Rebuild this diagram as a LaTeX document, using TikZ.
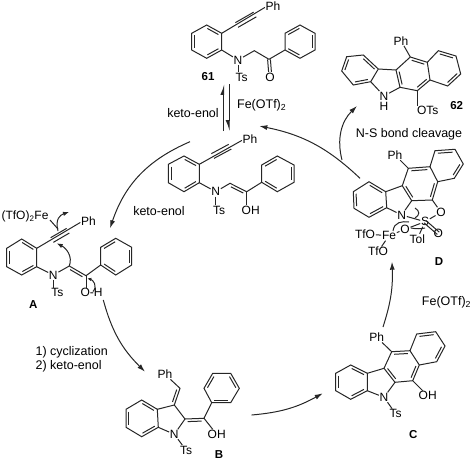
\documentclass[tikz,border=0pt]{standalone}
\usepackage{fontspec}
\setmainfont{Liberation Sans}
\usetikzlibrary{calc,arrows.meta}
% inner line of a double bond, lying left of the direction #1 to #2
\newcommand{\inbond}[2]{\draw[bond] ($(#1)!.13!(#2)!2.7pt!90:(#2)$) -- ($(#2)!.13!(#1)!2.7pt!-90:(#1)$);}
% outer lines of a triple bond
\newcommand{\outbond}[2]{\draw[bond] ($(#1)!2.7pt!90:(#2)$) -- ($(#2)!2.7pt!-90:(#1)$); \draw[bond] ($(#1)!2.7pt!-90:(#2)$) -- ($(#2)!2.7pt!90:(#1)$);}
\begin{document}
\begin{tikzpicture}[x=1pt, y=-1pt, >={Latex[length=8pt,width=5pt]},
		bond/.style={line width=1pt, black!85},
		curved/.style={->, line width=1pt, black!85},
		atom/.style={inner sep=0.6pt, font=\fontsize{12}{12}\selectfont},
		tag/.style={inner sep=0pt, font=\fontsize{11.5}{12}\selectfont\bfseries},
		note/.style={inner sep=0pt, font=\fontsize{12.5}{14}\selectfont}]
	\useasboundingbox (0,0) rectangle (474,461);
	% 61
	\foreach \n/\x/\y in {p1/206.7/25,p2/191.7/33.3,p3/191.7/50,p4/206.7/58.3,p5/221.7/50,p6/221.7/33.3,
		s1/300/25,s2/285/33.3,s3/285/50,s4/300/58.3,s5/315/50,s6/315/33.3,pc/254.3/50.7,pk/269/59.3,pt1/236.7/25,pt2/255/14.5}
		\coordinate (\n) at (\x,\y);
	\node[atom] (pPh) at (273,6) {Ph};
	\node[atom] (pN) at (238,60) {N};
	\node[atom] (pTs) at (241.7,77.3) {Ts};
	\node[atom] (pO) at (270,77) {O};
	\draw[bond] (p1) -- (p2) -- (p3) -- (p4) -- (p5) -- (p6) -- cycle;
	\draw[bond] (s1) -- (s2) -- (s3) -- (s4) -- (s5) -- (s6) -- cycle;
	\draw[bond] (p6) -- (pPh.190);
	\draw[bond] (p5) -- (pN) -- (pc) -- (pk) -- (s3);
	\draw[bond] (pN) -- (pN|-pTs.north);
	\draw[bond] ($(pk)+(-1.4,0)$) -- ($(pO.north)+(-1.4,0)$);
	\draw[bond] ($(pk)+(1.4,0)$) -- ($(pO.north)+(1.4,0)$);
	\outbond{pt1}{pt2}
	\foreach \a/\b in {p2/p3,p4/p5,p6/p1,s1/s2,s3/s4,s5/s6} {\inbond{\a}{\b}}
	\node[tag] (pTag) at (208,77) {61};
	% equilibrium arrows
	\coordinate (upS) at (223.7,131);
	\coordinate (upE) at (223.7,84);
	\coordinate (dnS) at (229,84);
	\coordinate (dnE) at (229,131);
	\draw[bond, -{Latex[harpoon,length=9pt,width=7pt]}] (upS) -- (upE);
	\draw[bond, -{Latex[harpoon,swap,length=9pt,width=7pt]}] (dnS) -- (dnE);
	\node[note] (fe1) at (261.7,105) {Fe(OTf)\textsubscript{2}};
	\node[note] (ke1) at (193,112.7) {keto-enol};
	% enol
	\foreach \n/\x/\y in {e1/184/156,e2/168.3/164.3,e3/168.3/182.7,e4/184/191.7,e5/199.3/182.7,e6/199.3/164.3,
		f1/277.3/156,f2/261.7/165,f3/261.7/182.3,f4/277.3/191.7,f5/294/182.3,f6/294/165,ec/230/183.3,ek/246.7/191.7,et1/212.7/156,et2/230/146.7}
		\coordinate (\n) at (\x,\y);
	\node[atom] (ePh) at (250,139) {Ph};
	\node[atom] (eN) at (215.7,191.7) {N};
	\node[atom] (eTs) at (219,210) {Ts};
	\node[atom] (eOH) at (250.7,210) {OH};
	\draw[bond] (e1) -- (e2) -- (e3) -- (e4) -- (e5) -- (e6) -- cycle;
	\draw[bond] (f1) -- (f2) -- (f3) -- (f4) -- (f5) -- (f6) -- cycle;
	\draw[bond] (e6) -- (ePh.190);
	\draw[bond] (e5) -- (eN) -- (ec) -- (ek) -- (f3);
	\draw[bond] (eN) -- (eN|-eTs.north);
	\draw[bond] (ek) -- (ek|-eOH.north);
	\outbond{et1}{et2}
	\foreach \a/\b in {e2/e3,e4/e5,e6/e1,f1/f2,f3/f4,f5/f6,ek/ec} {\inbond{\a}{\b}}
	\node[note] (ke2) at (159,211) {keto-enol};
	% A
	\foreach \n/\x/\y in {a1/21.7/239,a2/6.7/248.3,a3/6.7/266.7,a4/21.7/275,a5/36.7/266.7,a6/36.7/248.3,
		g1/115.7/238.3,g2/100.7/247.3,g3/100.7/265,g4/115.7/275,g5/131.7/265,g6/131.7/247.3,ac/69.3/266,ak/86/275.7,at1/52/240,at2/68/230.7,afe/50/220,afx/58/229}
		\coordinate (\n) at (\x,\y);
	\node[atom] (aFe) at (25,216.5) {(TfO)\textsubscript{2}Fe};
	\node[atom] (aPh) at (88.5,221) {Ph};
	\node[atom] (aN) at (53.3,275) {N};
	\node[atom] (aTs) at (57.3,292.7) {Ts};
	\node[atom] (aOH) at (91.5,292.7) {O-H};
	\draw[bond] (a1) -- (a2) -- (a3) -- (a4) -- (a5) -- (a6) -- cycle;
	\draw[bond] (g1) -- (g2) -- (g3) -- (g4) -- (g5) -- (g6) -- cycle;
	\draw[bond] (a6) -- (aPh.190);
	\draw[bond] (a5) -- (aN) -- (ac) -- (ak) -- (g3);
	\draw[bond] (aN) -- (aN|-aTs.north);
	\draw[bond] (ak) -- (ak|-aOH.north);
	\draw[bond] (afe) -- (afx);
	\outbond{at1}{at2}
	\foreach \a/\b in {a2/a3,a4/a5,a6/a1,g1/g2,g3/g4,g5/g6,ak/ac} {\inbond{\a}{\b}}
	\node[tag] (aTag) at (33.3,304.3) {A};
	\draw[curved, >={Latex[length=6pt,width=4.5pt]}] (58,231) .. controls (55,219) and (60,215) .. (69,212);
	\draw[curved, >={Latex[length=6pt,width=4.5pt]}] (ac) .. controls (73,256) and (66,248) .. (56.7,243.3);
	\draw[curved, >={Latex[length=4pt,width=3.5pt]}] (93,291.5) .. controls (98,286) and (93,280) .. (87.3,278.3);
	\node[note, anchor=east] (cy1) at (108,352) {1) cyclization};
	\node[note, anchor=west] (cy2) at (cy1.west|-0,366) {2) keto-enol};
	% B
	\foreach \n/\x/\y in {b1/141.7/400,b2/126/409.3,b3/126/427.3,b4/141.7/436.7,b5/158.3/427.3,b6/157.3/409.3,bm/174.3/405,bn/185/419,bv/180/388.3,bk/204/418.3,
		h1/212.7/373.3,h2/204/388.3,h3/211.7/402.7,h4/230.7/402.7,h5/239.3/388.3,h6/230.7/373.3}
		\coordinate (\n) at (\x,\y);
	\node[atom] (bPh) at (165,374.3) {Ph};
	\node[atom] (bN) at (174.3,434.3) {N};
	\node[atom] (bTs) at (186,450) {Ts};
	\node[atom] (bOH) at (216.7,434.3) {OH};
	\draw[bond] (b1) -- (b2) -- (b3) -- (b4) -- (b5) -- (b6) -- cycle;
	\draw[bond] (h1) -- (h2) -- (h3) -- (h4) -- (h5) -- (h6) -- cycle;
	\draw[bond] (b6) -- (bm) -- (bn) -- (bk) -- (h3);
	\draw[bond] (bn) -- (bN) -- (b5);
	\draw[bond] (bm) -- (bv) -- (bPh);
	\draw[bond] (bN) -- (bTs);
	\draw[bond] (bk) -- (bOH);
	\foreach \a/\b in {b2/b3,b4/b5,b6/b1,h1/h2,h3/h4,h5/h6,bm/bv,bk/bn} {\inbond{\a}{\b}}
	\node[tag] (bTag) at (219,455) {B};
	% C
	\foreach \n/\x/\y in {c1/350.7/365,c2/335.7/373.3,c3/335.7/390.7,c4/350.7/399.3,c5/367.3/390.7,c6/367.3/373.3,c7/384/368.3,c8/395/382.3,c9/412.7/380.7,c10/419.3/365,c11/410/350.7,c12/391.7/351.7,c13/436.7/361.7,c14/445/346,c15/435.7/331.7,c16/416.7/334}
		\coordinate (\n) at (\x,\y);
	\node[atom] (cPh) at (376.7,337.3) {Ph};
	\node[atom] (cN) at (384,397.3) {N};
	\node[atom] (cTs) at (395.7,413.7) {Ts};
	\node[atom] (cOH) at (427.7,395.7) {OH};
	\draw[bond] (c1) -- (c2) -- (c3) -- (c4) -- (c5) -- (c6) -- cycle;
	\draw[bond] (c6) -- (c7) -- (c8) -- (c9) -- (c10) -- (c11) -- (c12) -- (c7);
	\draw[bond] (c8) -- (cN) -- (c5);
	\draw[bond] (c11) -- (c16) -- (c15) -- (c14) -- (c13) -- (c10);
	\draw[bond] (c12) -- (cPh);
	\draw[bond] (c9) -- (cOH);
	\draw[bond] (cN) -- (cTs);
	\foreach \a/\b in {c2/c3,c4/c5,c6/c1,c7/c8,c9/c10,c11/c12,c13/c14,c15/c16} {\inbond{\a}{\b}}
	\node[tag] (cTag) at (413.3,435) {C};
	% D
	\foreach \n/\x/\y in {d1/369/181.7,d2/353.3/191.7,d3/354/208.3,d4/369/217.3,d5/386.7/207.7,d6/385.7/191.7,d7/402.3/185.7,d8/411.7/200.7,d9/432.3/200,d10/437.7/181.7,d11/430/166.7,d12/408.3/168.3,d13/454.3/178.3,d14/463.3/164,d15/455/149.3,d16/435/150.7}
		\coordinate (\n) at (\x,\y);
	\node[atom] (dPh) at (395,155) {Ph};
	\node[atom] (dN) at (401.7,215) {N};
	\node[atom] (dO1) at (441,212.3) {O};
	\node[atom] (dS) at (425,221.7) {S};
	\node[atom] (dO2) at (438.3,233.3) {O};
	\node[atom] (dO3) at (405,229.3) {O};
	\node[atom] (dTol) at (417.3,239) {Tol};
	\node[atom] (dFe) at (389,235.7) {Fe};
	\node[atom] (dTf1) at (365,234) {TfO};
	\node[atom] (dTf2) at (378,251.7) {TfO};
	\draw[bond] (d1) -- (d2) -- (d3) -- (d4) -- (d5) -- (d6) -- cycle;
	\draw[bond] (d6) -- (d7) -- (d8) -- (d9) -- (d10) -- (d11) -- (d12) -- (d7);
	\draw[bond] (d8) -- (dN) -- (d5);
	\draw[bond] (d11) -- (d16) -- (d15) -- (d14) -- (d13) -- (d10);
	\draw[bond] (d12) -- (dPh);
	\draw[bond] (d9) -- (dO1) -- (dS) -- (dTol);
	\draw[bond] (dN) -- (dS) -- (dO3);
	\draw[bond] ($(dS)!1.5pt!90:(dO2)$) -- ($(dO2)!1.5pt!-90:(dS)$);
	\draw[bond] ($(dS)!1.5pt!-90:(dO2)$) -- ($(dO2)!1.5pt!90:(dS)$);
	\draw[bond] (dTf1) -- (dFe) -- (dTf2);
	\draw[bond] (dFe) -- (dO3);
	\foreach \a/\b in {d2/d3,d4/d5,d6/d1,d7/d8,d9/d10,d11/d12,d13/d14,d15/d16} {\inbond{\a}{\b}}
	\node[tag] (dTag) at (439,261.7) {D};
	\draw[bond] (415,208) .. controls (420,211) and (420,215) .. (415,218);
	\draw[bond] (393,231) .. controls (394,222) and (402,221) .. (409,222);
	\draw[bond] (411,228) .. controls (416,229) and (421,229) .. (425,228);
	% 62
	\foreach \n/\x/\y in {q1/363.3/55,q2/346.7/56.7,q3/341.7/71,q4/353.3/85,q5/370.7/81.7,q6/378.3/69,q7/396/70,q8/400/87.3,q9/417.3/90.7,q10/430/80,q11/427.3/62.3,q12/410.3/57,q13/447.7/86,q14/460.7/74,q15/456/56,q16/438.3/50.7}
		\coordinate (\n) at (\x,\y);
	\node[atom] (qPh) at (401,40.7) {Ph};
	\node[atom, anchor=north] (qN) at (384,91) {N};
	\node[atom] (qH) at (384,106.7) {H};
	\node[atom] (qOTs) at (427.7,110.7) {OTs};
	\draw[bond] (q1) -- (q2) -- (q3) -- (q4) -- (q5) -- (q6) -- cycle;
	\draw[bond] (q6) -- (q7) -- (q8) -- (q9) -- (q10) -- (q11) -- (q12) -- (q7);
	\draw[bond] (q8) -- (qN) -- (q5);
	\draw[bond] (q11) -- (q16) -- (q15) -- (q14) -- (q13) -- (q10);
	\draw[bond] (q12) -- (qPh);
	\draw[bond] (q9) -- (q9|-qOTs.north);
	\foreach \a/\b in {q2/q3,q4/q5,q6/q1,q7/q8,q9/q10,q11/q12,q13/q14,q15/q16} {\inbond{\a}{\b}}
	\node[tag] (qTag) at (456.7,106) {62};
	\node[note] (cleave) at (409,134) {N-S bond cleavage};
	\node[note] (fe2) at (446.5,302.3) {Fe(OTf)\textsubscript{2}};
	% cycle arrows
	\foreach \n/\x/\y in {ea/190/141.7,eb/110/228.3,ab/103.3/300,ba/145/371.7,bc/251.7/415,cb/322.7/393.3,cd/383/327,dc/392/261.7,dq/342/160,qd/357/106,de/360/178.3,ed/259.3/126}
		\coordinate (\n) at (\x,\y);
	\draw[curved] (ea) to[bend right=24] (eb);
	\draw[curved] (ab) to[bend right=15] (ba);
	\draw[curved] (bc) to[bend right=12] (cb);
	\draw[curved] (cd) to[bend right=10] (dc);
	\draw[curved] (dq) to[bend left=30] (qd);
	\draw[curved] (de) to[bend right=16] (ed);
\end{tikzpicture}
\end{document}
